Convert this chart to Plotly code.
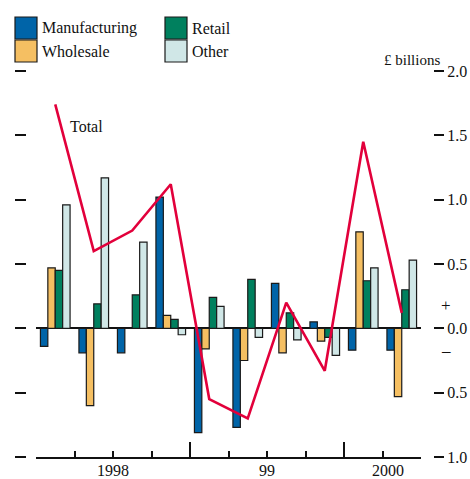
import plotly.graph_objects as go

# Quarterly data, 1998 Q1 to 2000 Q2 (£ billions)
quarters = ['1998 Q1', '1998 Q2', '1998 Q3', '1998 Q4',
            '1999 Q1', '1999 Q2', '1999 Q3', '1999 Q4',
            '2000 Q1', '2000 Q2']
manufacturing = [-0.14, -0.19, -0.19, 1.02, -0.81, -0.77, 0.35, 0.05, -0.17, -0.17]
wholesale = [0.47, -0.60, 0.00, 0.10, -0.16, -0.25, -0.19, -0.10, 0.75, -0.53]
retail = [0.45, 0.19, 0.26, 0.07, 0.24, 0.38, 0.12, -0.07, 0.37, 0.30]
other = [0.96, 1.17, 0.67, -0.05, 0.17, -0.07, -0.09, -0.21, 0.47, 0.53]
total = [1.74, 0.60, 0.76, 1.12, -0.55, -0.70, 0.20, -0.33, 1.45, 0.12]

series_names = ['Manufacturing', 'Wholesale', 'Retail', 'Other']
series_values = [manufacturing, wholesale, retail, other]
series_colors = ['#0064A8', '#F5BF62', '#00805E', '#D0E7E7']

year_labels = ['1998', '99', '2000']
year_label_pos = [1.5, 5.5, 8.65]
y_ticks = [-1.0, -0.5, 0.0, 0.5, 1.0, 1.5, 2.0]
y_ticktext = ['1.0', '0.5', '0.0', '0.5', '1.0', '1.5', '2.0']

FONT = 'Liberation Serif, Times New Roman, serif'
FS = 16
W, H = 470, 479
# plot area is 36..421 x 71..457 px
M_L, M_R, M_T, M_B = 10, 10, 71, 22


def px_x(px):
    # pixel -> paper x
    return (px - M_L) / (W - M_L - M_R)


def px_y(py):
    # pixel -> paper y
    return (H - M_B - py) / (H - M_T - M_B)


x = list(range(len(quarters)))

fig = go.Figure()

for name, vals, col in zip(series_names, series_values, series_colors):
    fig.add_trace(go.Bar(
        x=x, y=vals, name=name,
        marker=dict(color=col, line=dict(color='#1a1a1a', width=1.2)),
        showlegend=False
    ))

fig.add_trace(go.Scatter(
    x=x, y=total, mode='lines', name='Total',
    line=dict(color='#E2003B', width=2.6),
    showlegend=False
))

# invisible trace so the right-hand label axis gets drawn
fig.add_trace(go.Scatter(x=[0], y=[None], yaxis='y2',
                         showlegend=False, hoverinfo='skip'))

shapes = []
annotations = []

# hand-made legend with large boxes
legend_pos = [(15, 17), (15, 40), (165, 17), (165, 40)]
for i, (lx, ly) in enumerate(legend_pos):
    shapes.append(dict(type='rect', xref='paper', yref='paper',
                       x0=px_x(lx), x1=px_x(lx + 22),
                       y0=px_y(ly), y1=px_y(ly + 22),
                       fillcolor=series_colors[i],
                       line=dict(color='#1a1a1a', width=1.2)))
    annotations.append(dict(xref='paper', yref='paper',
                            x=px_x(lx + 25), y=px_y(ly + 11),
                            xanchor='left', yanchor='middle',
                            text=series_names[i], showarrow=False,
                            font=dict(family=FONT, size=FS, color='#111')))

# year labels under the quarter ticks
for lab, pos in zip(year_labels, year_label_pos):
    annotations.append(dict(xref='x', yref='paper', x=pos, y=px_y(460),
                            xanchor='center', yanchor='top', text=lab,
                            showarrow=False,
                            font=dict(family=FONT, size=FS, color='#111')))

annotations += [
    dict(xref='paper', yref='paper', x=px_x(442), y=px_y(60),
         xanchor='right', yanchor='middle', text='£ billions',
         showarrow=False, font=dict(family=FONT, size=15, color='#111')),
    dict(xref='paper', yref='paper', x=px_x(446), y=px_y(305),
         xanchor='center', yanchor='middle', text='+',
         showarrow=False, font=dict(family=FONT, size=17, color='#111')),
    dict(xref='paper', yref='paper', x=px_x(446), y=px_y(350),
         xanchor='center', yanchor='middle', text='–',
         showarrow=False, font=dict(family=FONT, size=17, color='#111')),
    dict(xref='x', yref='y', x=0.8, y=1.57,
         xanchor='center', yanchor='middle', text='Total',
         showarrow=False, font=dict(family=FONT, size=FS, color='#111')),
]

fig.update_layout(
    width=W, height=H,
    margin=dict(l=M_L, r=M_R, t=M_T, b=M_B, autoexpand=False),
    paper_bgcolor='white', plot_bgcolor='white',
    barmode='group', bargap=0.23, bargroupgap=0,
    font=dict(family=FONT, size=FS, color='#111'),
    shapes=shapes, annotations=annotations,
    xaxis=dict(
        domain=[px_x(36), px_x(421)],
        range=[-0.5, 9.5], showgrid=False, zeroline=False,
        showline=True, linecolor='#111', linewidth=1.5,
        tickmode='array', tickvals=[-0.5, 3.5, 7.5],
        ticks='inside', ticklen=15, tickwidth=1.5, tickcolor='#111',
        showticklabels=False, automargin=False,
        minor=dict(tickmode='array',
                   tickvals=[i - 0.5 for i in range(len(quarters) + 1)],
                   ticks='inside', ticklen=6, tickwidth=1.5, tickcolor='#111'),
        anchor='y'
    ),
    yaxis=dict(
        range=[-1, 2], anchor='free', position=px_x(26),
        showgrid=False, showline=False,
        zeroline=True, zerolinecolor='#111', zerolinewidth=1.5,
        tickmode='array', tickvals=y_ticks,
        ticks='outside', ticklen=11, tickwidth=1.5, tickcolor='#111',
        showticklabels=False, automargin=False
    ),
    yaxis2=dict(
        range=[-1, 2], overlaying='y', side='right',
        anchor='free', position=px_x(433),
        showgrid=False, showline=False, zeroline=False,
        tickmode='array', tickvals=y_ticks, ticktext=y_ticktext,
        ticks='outside', ticklen=10, tickwidth=1.5, tickcolor='#111',
        tickfont=dict(family=FONT, size=FS, color='#111'),
        automargin=False
    ),
)

# drop the default page margin so the figure fills the window exactly
fig.write_html('out.html',
               config={'displayModeBar': False},
               post_script="document.body.style.margin='0';"
                           "document.body.style.overflow='hidden';")
